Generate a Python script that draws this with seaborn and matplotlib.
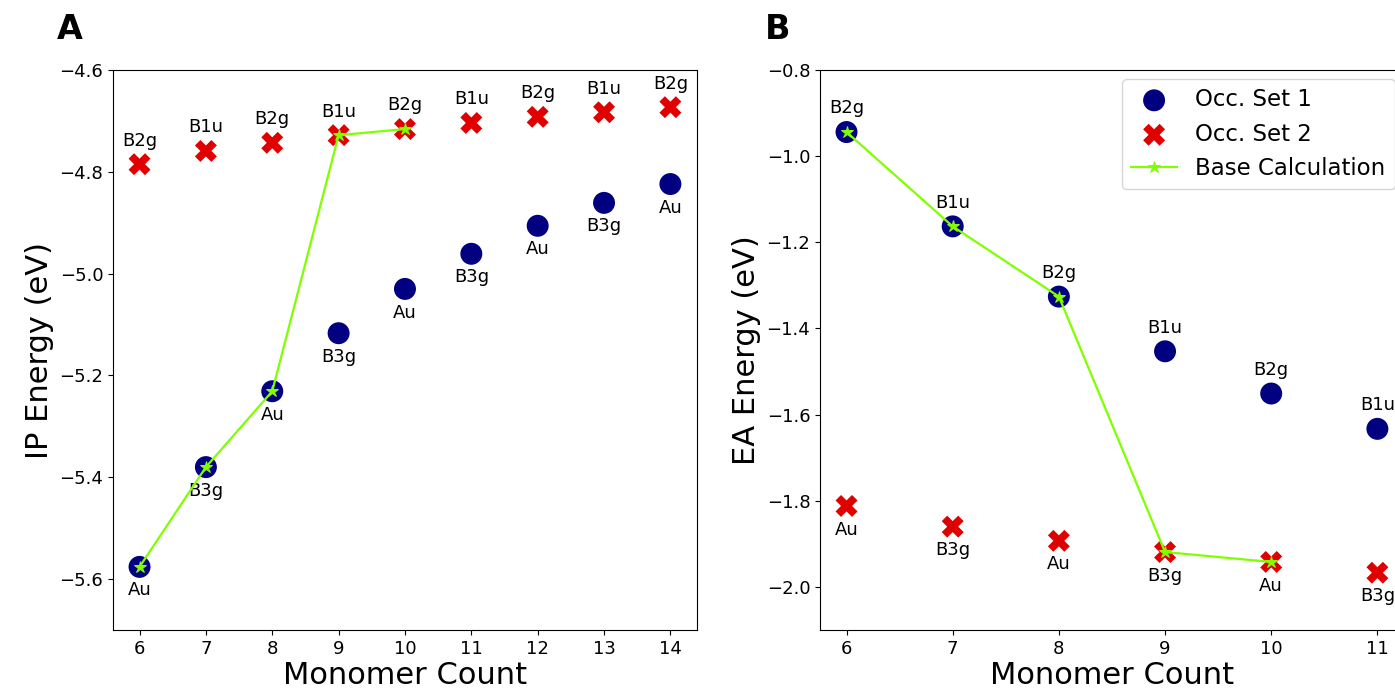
import numpy as np
import pandas as pd
import seaborn as sns
import matplotlib.pyplot as plt

# Panel A: ionisation potential
n_ip = [6, 7, 8, 9, 10, 11, 12, 13, 14]
ip_set1 = [-5.576, -5.380, -5.231, -5.117, -5.030, -4.961, -4.906, -4.861, -4.824]
ip_set1_lab = ["Au", "B3g", "Au", "B3g", "Au", "B3g", "Au", "B3g", "Au"]
ip_set2 = [-4.785, -4.759, -4.743, -4.728, -4.716, -4.704, -4.692, -4.683, -4.673]
ip_set2_lab = ["B2g", "B1u", "B2g", "B1u", "B2g", "B1u", "B2g", "B1u", "B2g"]
n_ip_base = [6, 7, 8, 9, 10]
ip_base = [-5.576, -5.380, -5.231, -4.728, -4.716]

# Panel B: electron affinity
n_ea = [6, 7, 8, 9, 10, 11]
ea_set1 = [-0.944, -1.163, -1.326, -1.453, -1.551, -1.633]
ea_set1_lab = ["B2g", "B1u", "B2g", "B1u", "B2g", "B1u"]
ea_set2 = [-1.812, -1.860, -1.893, -1.919, -1.942, -1.967]
ea_set2_lab = ["Au", "B3g", "Au", "B3g", "Au", "B3g"]
n_ea_base = [6, 7, 8, 9, 10]
ea_base = [-0.944, -1.163, -1.326, -1.919, -1.942]

fig = plt.figure(figsize=(13.95, 6.98), dpi=100)
axA = fig.add_axes([0.081, 0.0974, 0.4186, 0.8023])
axB = fig.add_axes([0.5878, 0.0974, 0.4186, 0.8023])


def panel(ax, n, s1, l1, s2, l2, nb, base, s1_up, ylabel, ylim, legend):
    sns.scatterplot(x=n, y=s1, ax=ax, color="navy", marker="o", s=250,
                    edgecolor="none", label="Occ. Set 1", zorder=3)
    sns.scatterplot(x=n, y=s2, ax=ax, color="#e00000", marker="X", s=250,
                    edgecolor="none", label="Occ. Set 2", zorder=3)
    sns.lineplot(x=nb, y=base, ax=ax, color="#7fff00", marker="*", markersize=9,
                 markeredgecolor="#7fff00", linewidth=1.6, label="Base Calculation",
                 zorder=4)
    off1 = 17 if s1_up else -17
    for x, y, t in zip(n, s1, l1):
        ax.annotate(t, (x, y), xytext=(0, off1), textcoords="offset points",
                    ha="center", va="center", fontsize=13)
    for x, y, t in zip(n, s2, l2):
        ax.annotate(t, (x, y), xytext=(0, -off1), textcoords="offset points",
                    ha="center", va="center", fontsize=13)
    ax.set_ylim(*ylim)
    ax.set_xticks(n)
    ax.set_xlabel("Monomer Count", fontsize=22, labelpad=2)
    ax.set_ylabel(ylabel, fontsize=22)
    ax.tick_params(labelsize=13)
    if legend:
        ax.legend(loc="upper right", fontsize=16.5, markerscale=1.0,
                  borderaxespad=0.4)
    else:
        ax.get_legend().remove()


panel(axA, n_ip, ip_set1, ip_set1_lab, ip_set2, ip_set2_lab, n_ip_base, ip_base,
      False, "IP Energy (eV)", (-5.7, -4.6), False)
panel(axB, n_ea, ea_set1, ea_set1_lab, ea_set2, ea_set2_lab, n_ea_base, ea_base,
      True, "EA Energy (eV)", (-2.1, -0.8), True)
axB.set_xlim(5.75, 11.25)

fig.text(0.041, 0.958, "A", fontsize=24, fontweight="bold", va="center")
fig.text(0.548, 0.958, "B", fontsize=24, fontweight="bold", va="center")

fig.savefig("out.png", dpi=100)
